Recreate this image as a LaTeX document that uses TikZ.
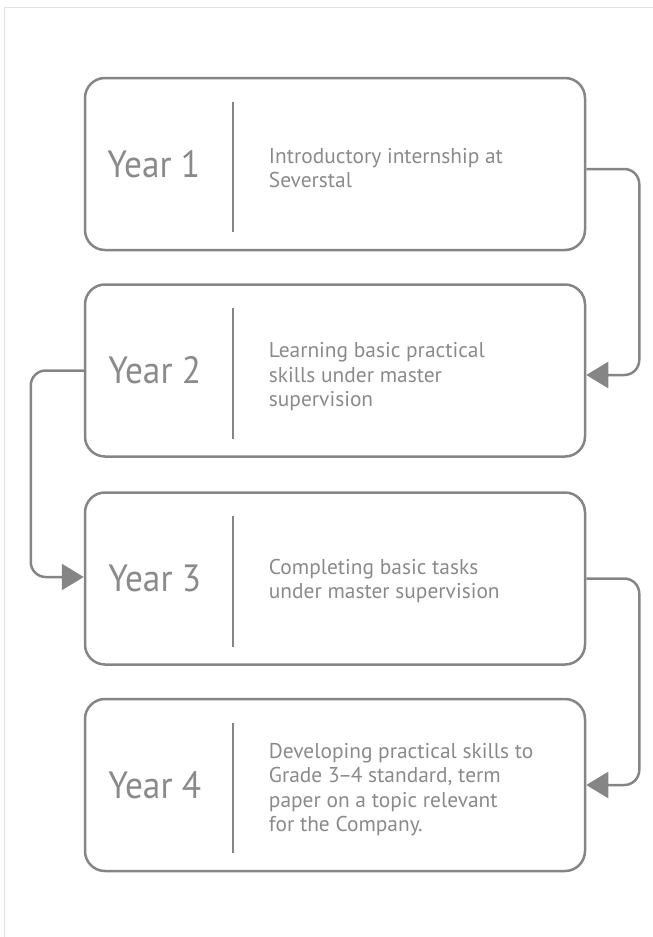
\documentclass[tikz,border=0pt]{standalone}
\usepackage{fontspec}
\setmainfont{PT Sans}
\newfontfamily\yearfont[FakeStretch=0.93]{PT Sans}
\usetikzlibrary{arrows.meta,calc}
\definecolor{lineg}{HTML}{858585}
\definecolor{textg}{HTML}{8A8A8A}
\definecolor{frameg}{HTML}{E2E2E2}
\begin{document}
\begin{tikzpicture}[x=1pt,y=-1pt,
  box/.style={draw=lineg, line width=2.5pt, rounded corners=20pt, minimum width=500pt, minimum height=172pt, inner sep=0},
  divider/.style={draw=lineg, line width=2pt},
  yearlabel/.style={text=textg, inner sep=0, font=\yearfont\fontsize{38}{40}\selectfont},
  desclabel/.style={text=textg, inner sep=0, anchor=base west, font=\fontsize{21.4}{24.5}\selectfont},
  conn/.style={draw=lineg, line width=2.5pt, rounded corners=15pt, -{Triangle[length=22pt,width=26pt]}},
  frame/.style={draw=frameg, line width=1pt}
]
\useasboundingbox (0,0) rectangle (653,937);
\draw[frame] (4,937) -- (4,7) -- (653,7);

\node[box] (b1) at (335,164) {};
\node[box] (b2) at (335,370.5) {};
\node[box] (b3) at (335,578.5) {};
\node[box] (b4) at (335,785) {};

\foreach \b in {b1,b2,b3,b4}{
  \draw[divider] ($(\b.north west)+(149,25)$) -- ($(\b.south west)+(149,-19)$);
}

\node[yearlabel] (y1) at ($(b1.west)+(70,0)$) {Year 1};
\node[yearlabel] (y2) at ($(b2.west)+(71,0)$) {Year 2};
\node[yearlabel] (y3) at ($(b3.west)+(71,0)$) {Year 3};
\node[yearlabel] (y4) at ($(b4.west)+(71,0)$) {Year 4};

\node[desclabel] (d1) at ($(b1.west)+(185,-1)$) {\begin{tabular}[t]{@{}l@{}}Introductory internship at\\Severstal\end{tabular}};
\node[desclabel] (d2) at ($(b2.west)+(185,-12.8)$) {\begin{tabular}[t]{@{}l@{}}Learning basic practical\\skills under master\\supervision\end{tabular}};
\node[desclabel] (d3) at ($(b3.west)+(185,-4.2)$) {\begin{tabular}[t]{@{}l@{}}Completing basic tasks\\under master supervision\end{tabular}};
\node[desclabel] (d4) at ($(b4.west)+(185,-26.7)$) {\begin{tabular}[t]{@{}l@{}}Developing practical skills to\\Grade 3\kern-1.5pt–\kern-1.5pt4 standard, term\\paper on a topic relevant\\for the Company.\end{tabular}};

\draw[conn] ([yshift=-5pt]b1.east) -- ++(53,0) |- ([yshift=-4.5pt]b2.east);
\draw[conn] (b2.west) -- ++(-53,0) |- ([yshift=1.5pt]b3.west);
\draw[conn] (b3.east) -- ++(53,0) |- (b4.east);
\end{tikzpicture}
\end{document}
